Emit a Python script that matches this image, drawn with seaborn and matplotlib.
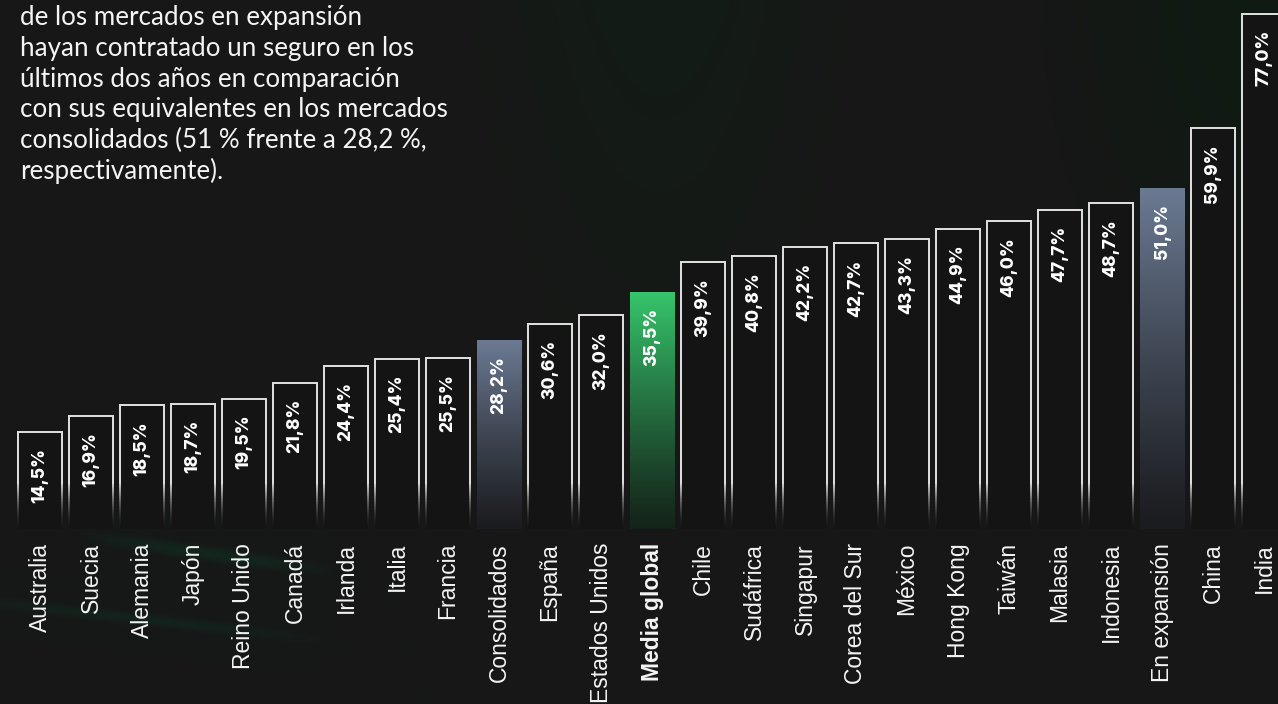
import numpy as np
import pandas as pd
import matplotlib
matplotlib.use("Agg")
import matplotlib.pyplot as plt
import seaborn as sns
from matplotlib.colors import LinearSegmentedColormap, to_rgb
from matplotlib.collections import LineCollection

# ---------------------------------------------------------------- data
categories = [
    "Australia", "Suecia", "Alemania", "Japón", "Reino Unido", "Canadá",
    "Irlanda", "Italia", "Francia", "Consolidados", "España",
    "Estados Unidos", "Media global", "Chile", "Sudáfrica", "Singapur",
    "Corea del Sur", "México", "Hong Kong", "Taiwán", "Malasia",
    "Indonesia", "En expansión", "China", "India",
]
values = [
    14.5, 16.9, 18.5, 18.7, 19.5, 21.8, 24.4, 25.4, 25.5, 28.2, 30.6, 32.0,
    35.5, 39.9, 40.8, 42.2, 42.7, 43.3, 44.9, 46.0, 47.7, 48.7, 51.0, 59.9,
    77.0,
]
# aggregate bars get a filled gradient instead of an outline
aggregate_style = {
    "Consolidados": "slate",
    "En expansión": "slate",
    "Media global": "green",
}
intro_lines = [
    "de los mercados en expansión",
    "hayan contratado un seguro en los",
    "últimos dos años en comparación",
    "con sus equivalentes en los mercados",
    "consolidados (51 % frente a 28,2 %,",
    "respectivamente).",
]

# ---------------------------------------------------------------- style
W, H, DPI = 1278, 704, 100
BG = "#171717"
BAR_FILL = "#141414"
EDGE = "#e2e2e2"
TEXT = "#f4f4f4"
GRADIENTS = {
    "slate": ("#6b7a93", "#1b1c1f"),
    "green": ("#36c56c", "#15241a"),
}

sns.set_style("dark")
plt.rcParams["font.family"] = ["Liberation Sans", "DejaVu Sans"]

fig = plt.figure(figsize=(W / DPI, H / DPI), dpi=DPI, facecolor=BG)

# ---------------------------------------------------------------- backdrop haze
yy, xx = np.mgrid[0:H, 0:W].astype(float)
img = np.ones((H, W, 3)) * np.array(to_rgb(BG))

def add_glow(weight, rgb_delta):
    img[:] += weight[..., None] * np.array(rgb_delta) / 255.0

# soft vertical green band behind the middle of the chart
band = np.exp(-((xx - 660) / 150.0) ** 2) * np.clip(1 - yy / 480.0, 0, 1)
add_glow(band, (-4, 5, -1))
# deeper green in the top-right corner
corner = np.exp(-(((xx - 1278) / 160.0) ** 2 + (yy / 260.0) ** 2))
add_glow(corner, (-9, 4, -5))

def streak(x0, y0, x1, y1, width, strength):
    dx, dy = x1 - x0, y1 - y0
    length2 = dx * dx + dy * dy
    t = np.clip(((xx - x0) * dx + (yy - y0) * dy) / length2, 0, 1)
    px, py = x0 + t * dx, y0 + t * dy
    d = np.hypot(xx - px, yy - py)
    along = np.sin(np.pi * t) ** 0.7
    return strength * np.exp(-(d / width) ** 2) * along

beams = streak(80, 535, 340, 572, 7, 0.8) + streak(-60, 596, 330, 640, 6, 0.6)
add_glow(beams, (-6, 20, 9))
img = np.clip(img, 0, 1)

bg_ax = fig.add_axes([0, 0, 1, 1])
bg_ax.imshow(img, extent=[0, 1, 0, 1], aspect="auto", interpolation="bilinear")
bg_ax.set_axis_off()

# ---------------------------------------------------------------- bars
left_px, base_px, top_px = 14.5, 529, 14
ax = fig.add_axes([left_px / W, (H - base_px) / H,
                   (25 * 51.0) / W, (base_px - top_px) / H])
ax.set_facecolor("none")

df = pd.DataFrame({"pais": categories, "valor": values})
sns.barplot(data=df, x="pais", y="valor", ax=ax, width=0.87, color=BAR_FILL,
            saturation=1, edgecolor="none", linewidth=0)

# outlines: bright at the top, fading out towards the baseline
FADE_TOP = 7.0          # data units above the baseline where the fade ends
edge_rgb = np.array(to_rgb(EDGE))
n_seg = 30
for name, patch in zip(categories, ax.patches):
    patch.set_zorder(2)
    style = aggregate_style.get(name)
    x0 = patch.get_x()
    x1 = x0 + patch.get_width()
    h = patch.get_height()
    if style is not None:
        patch.set_facecolor("none")
        top_c, bot_c = GRADIENTS[style]
        cmap = LinearSegmentedColormap.from_list(style, [bot_c, top_c])
        grad = np.linspace(1, 0, 256)[:, None] ** 1.15
        im = ax.imshow(grad, extent=[x0, x1, 0, h], aspect="auto", cmap=cmap,
                       vmin=0, vmax=1, zorder=2)
        im.set_clip_path(patch)
        continue
    # top edge plus the straight part of the sides
    solid_lo = min(FADE_TOP, h)
    ax.plot([x0, x0, x1, x1], [solid_lo, h, h, solid_lo], color=EDGE,
            lw=1.4, zorder=3, solid_joinstyle="miter", clip_on=False)
    # faded part of the sides
    ys = np.linspace(0, solid_lo, n_seg + 1)
    segs, cols = [], []
    for xe in (x0, x1):
        for k in range(n_seg):
            segs.append([(xe, ys[k]), (xe, ys[k + 1])])
            a = ((k + 0.5) / n_seg) ** 1.8
            cols.append((*edge_rgb, a))
    ax.add_collection(LineCollection(segs, colors=cols, linewidths=1.4,
                                     zorder=3, capstyle="butt"))

# value labels inside the bars
for i, v in enumerate(values):
    ax.annotate(f"{v:.1f}%".replace(".", ","), xy=(i, v), xytext=(0, -16),
                textcoords="offset pixels", rotation=90, ha="center",
                va="top", color="white", fontsize=12.5, fontweight="heavy",
                family=["Inter", "DejaVu Sans"], zorder=6)

ax.set_xlim(-0.5, 24.5)
ax.set_ylim(0, 77)
ax.set_yticks([])
ax.set_xlabel("")
ax.set_ylabel("")
ax.grid(False)
for s in ax.spines.values():
    s.set_visible(False)
ax.tick_params(axis="x", length=0, pad=10)
ax.set_xticks(range(len(categories)))
ax.set_xticklabels(categories, rotation=90, ha="center", va="top",
                   color=TEXT, fontsize=16.5)
for lbl in ax.get_xticklabels():
    if aggregate_style.get(lbl.get_text()) == "green":
        lbl.set_fontweight("bold")

# ---------------------------------------------------------------- intro text
for k, line in enumerate(intro_lines):
    baseline = 25 + k * 30.8
    fig.text(20 / W, 1 - baseline / H, line, family=["Lato", "DejaVu Sans"],
             fontsize=18.7, color=TEXT, va="baseline", ha="left")

fig.savefig("out.png", dpi=DPI, facecolor=BG)
